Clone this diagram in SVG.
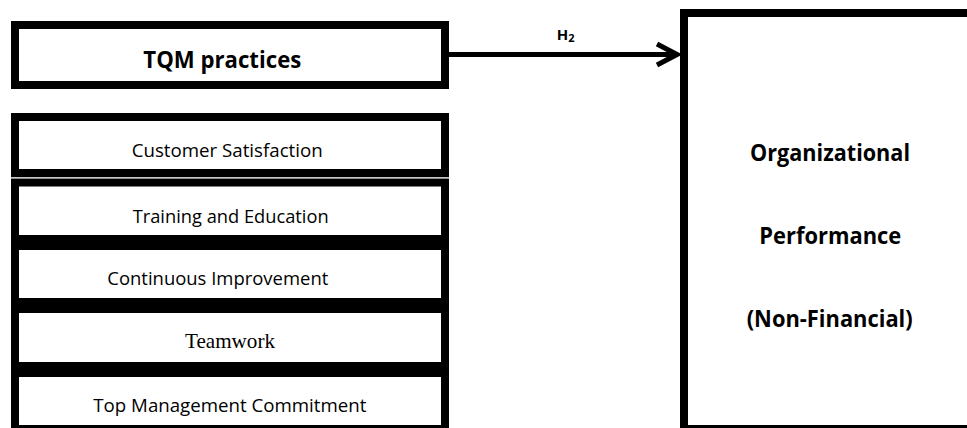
<svg xmlns="http://www.w3.org/2000/svg" width="967" height="428" viewBox="0 0 967 428">
  <style>
    .box { fill: #ffffff; stroke: #000000; stroke-width: 8; }
    .lbl { font-family: "Open Sans", "Noto Sans", sans-serif; font-size: 18.5px; fill: #000000; }
    .serif { font-family: "Liberation Serif", "Times New Roman", serif; font-size: 21px; fill: #000000; }
    .bold { font-family: "Open Sans", "Noto Sans", sans-serif; font-weight: bold; font-size: 23px; fill: #000000; }
    .h { font-family: "Open Sans", "Noto Sans", sans-serif; font-weight: bold; font-size: 15px; fill: #000000; }
    .conn { stroke: #000000; stroke-width: 5; fill: none; }
  </style>
  <defs>
    <marker id="arrow" markerUnits="userSpaceOnUse" markerWidth="30" markerHeight="30" viewBox="-25 -15 30 30" refX="0" refY="0" orient="auto">
      <path d="M -20 -10.5 L 0 0 L -20 10.5" fill="none" stroke="#000000" stroke-width="5"/>
    </marker>
  </defs>
  <rect width="967" height="428" fill="#ffffff"/>

  <g id="tqm">
    <rect class="box" x="15" y="25" width="430" height="60"/>
    <text class="bold" x="143.3" y="68.3" textLength="158" lengthAdjust="spacingAndGlyphs">TQM practices</text>
  </g>

  <g id="customer-satisfaction">
    <rect class="box" x="15" y="117" width="430" height="56"/>
    <text class="lbl" x="131.7" y="157" textLength="191" lengthAdjust="spacingAndGlyphs">Customer Satisfaction</text>
  </g>
  <g id="training-education">
    <rect class="box" x="15" y="182.5" width="430" height="56.5"/>
    <text class="lbl" x="132.7" y="223" textLength="196" lengthAdjust="spacingAndGlyphs">Training and Education</text>
  </g>
  <g id="continuous-improvement">
    <rect class="box" x="15" y="246" width="430" height="56"/>
    <text class="lbl" x="107.3" y="285" textLength="221" lengthAdjust="spacingAndGlyphs">Continuous Improvement</text>
  </g>
  <g id="teamwork">
    <rect class="box" x="15" y="309" width="430" height="57"/>
    <text class="serif" x="185" y="348" textLength="90" lengthAdjust="spacingAndGlyphs">Teamwork</text>
  </g>
  <g id="top-management">
    <rect class="box" x="15" y="373" width="430" height="56"/>
    <text class="lbl" x="93.3" y="411.7" textLength="273" lengthAdjust="spacingAndGlyphs">Top Management Commitment</text>
  </g>
  <line x1="11" y1="177.8" x2="449" y2="177.8" stroke="#b0b0b0" stroke-width="1"/>

  <g id="org-performance">
    <rect class="box" x="684" y="13" width="300" height="416"/>
    <text class="bold" x="750" y="160.7" textLength="160" lengthAdjust="spacingAndGlyphs">Organizational</text>
    <text class="bold" x="759.3" y="244" textLength="142" lengthAdjust="spacingAndGlyphs">Performance</text>
    <text class="bold" x="746.7" y="326.5" textLength="166" lengthAdjust="spacingAndGlyphs">(Non-Financial)</text>
  </g>

  <g id="connectors">
    <line class="conn" x1="449" y1="54.5" x2="677" y2="54.5" marker-end="url(#arrow)"/>
    <text class="h" x="556.7" y="39.5">H<tspan font-size="11" dy="2">2</tspan></text>
  </g>
</svg>
